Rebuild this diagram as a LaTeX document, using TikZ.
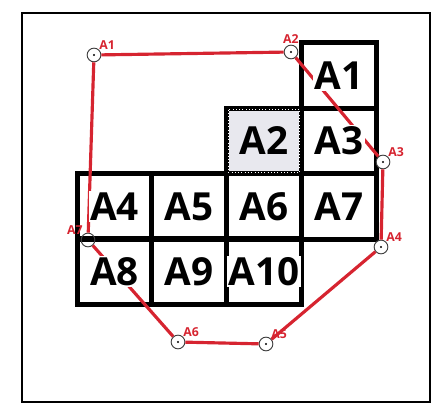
\documentclass[tikz,border=0pt]{standalone}
\usepackage{fontspec}
\setmainfont{Open Sans}
\definecolor{polyred}{RGB}{214,36,48}
\definecolor{lotgray}{RGB}{232,232,238}

\begin{document}
\begin{tikzpicture}[x=0.03cm, y=-0.03cm,
    cell/.style={draw=black, line width=4.2pt, minimum width=2.24cm, minimum height=1.96cm, inner sep=0pt},
    celltext/.style={fill=white, inner sep=1.2pt, font=\fontsize{33}{36}\selectfont\bfseries},
    survey/.style={circle, draw=black!75, line width=0.8pt, fill=white, minimum size=0.41cm, inner sep=0pt},
    ptlabel/.style={text=polyred, font=\fontsize{10.5}{12}\selectfont\bfseries, inner sep=0pt},
    boundary/.style={draw=polyred, line width=2.7pt}]

    \useasboundingbox (0,0) rectangle (446,405);

    % Frame
    \draw[line width=1.2pt] (22,13) rectangle (430,402);

    % Lots
    \node[cell] (lot1) at (339,75.5) {};
    \node[cell, fill=lotgray] (lot2) at (264,141) {};
    \node[cell] (lot3) at (339,141) {};
    \node[cell] (lot4) at (114.5,206.5) {};
    \node[cell] (lot5) at (189,206.5) {};
    \node[cell] (lot6) at (264,206.5) {};
    \node[cell] (lot7) at (339,206.5) {};
    \node[cell] (lot8) at (114.5,271.5) {};
    \node[cell] (lot9) at (189,271.5) {};
    \node[cell] (lot10) at (264,271.5) {};
    \draw[white, line width=0.8pt, dotted] ([shift={(4,4)}]lot2.north west) rectangle ([shift={(-4,-4)}]lot2.south east);

    % Survey points
    \node[survey, label={[ptlabel, label distance=0pt]above right:A1}] (pt1) at (94,55) {};
    \node[survey, label={[ptlabel, label distance=1pt]above:A2}] (pt2) at (291,52) {};
    \node[survey, label={[ptlabel, label distance=0pt]above right:A3}] (pt3) at (383,162) {};
    \node[survey, label={[ptlabel, label distance=0pt]above right:A4}] (pt4) at (381,247) {};
    \node[survey, label={[ptlabel, label distance=0pt]above right:A5}] (pt5) at (266,344) {};
    \node[survey, label={[ptlabel, label distance=0pt]above right:A6}] (pt6) at (178,342) {};
    \node[survey, fill=none, label={[ptlabel, label distance=0pt]above left:A7}] (pt7) at (88,240) {};
    \foreach \p in {pt1,pt2,pt3,pt4,pt5,pt6}
        \fill (\p) circle (0.9pt);

    % Boundary
    \draw[boundary] (pt1) -- (pt2);
    \draw[boundary] (pt2) -- (pt3);
    \draw[boundary] (pt3) -- (pt4);
    \draw[boundary] (pt4) -- (pt5);
    \draw[boundary] (pt5) -- (pt6);
    \draw[boundary] (pt6) -- (pt7);
    \draw[boundary] (pt7) -- (pt1);

    % Lot labels
    \foreach \n in {1,...,10}
        \node[celltext] at (lot\n) {A\n};
    \node[celltext, fill=lotgray] at (lot2) {A2};

\end{tikzpicture}
\end{document}
